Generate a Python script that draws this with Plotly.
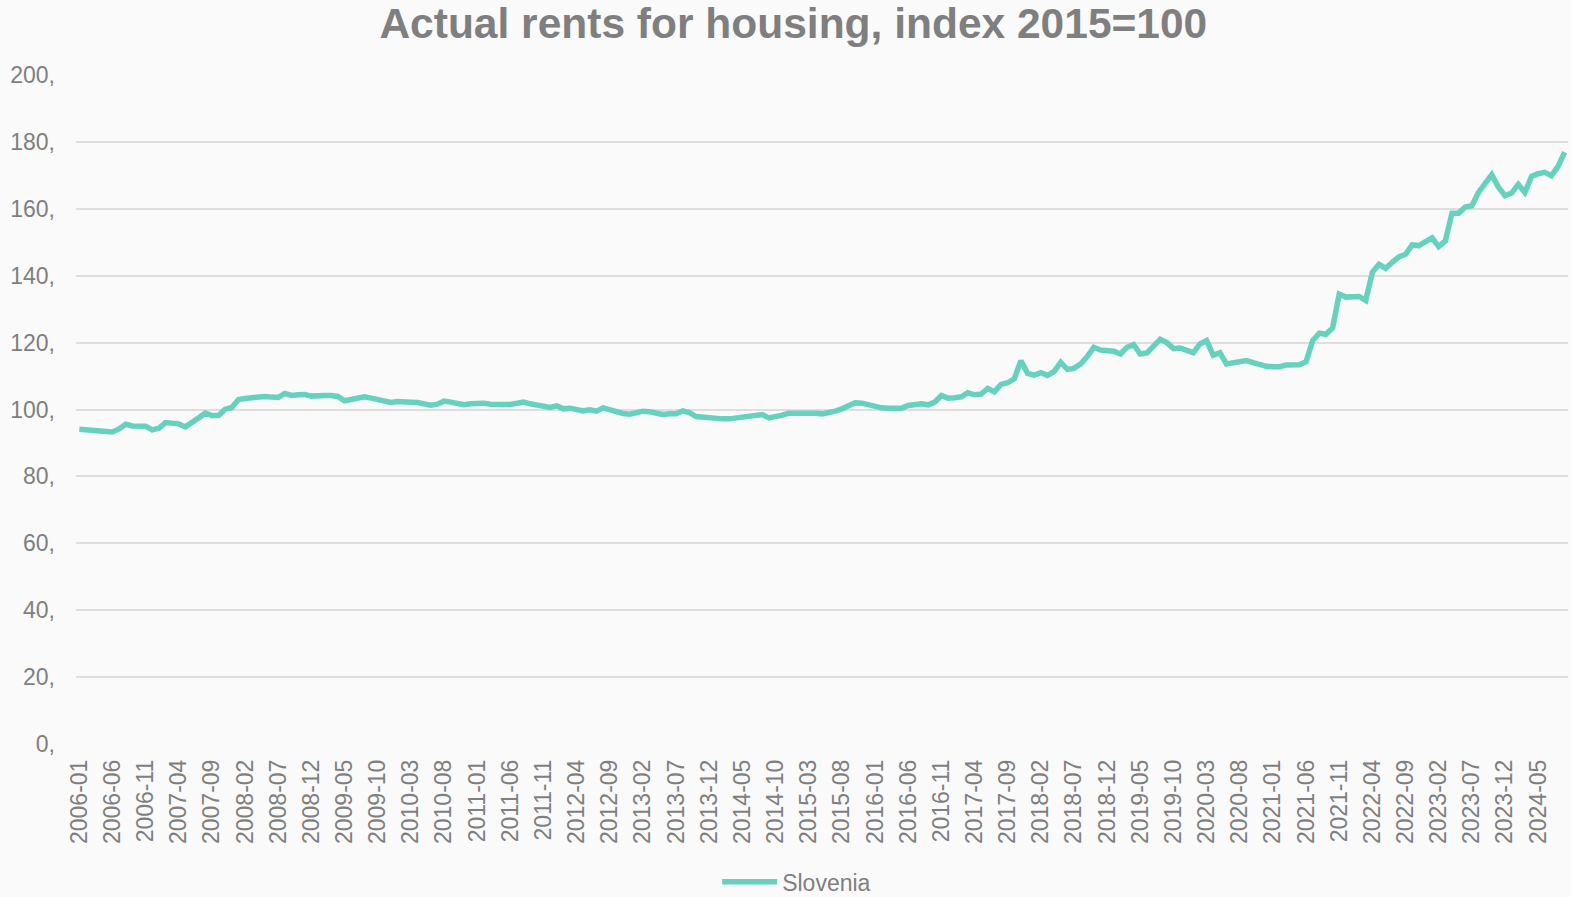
import plotly.graph_objects as go

series_name = "Slovenia"
chart_title = "Actual rents for housing, index 2015=100"

# monthly categories 2006-01 .. 2024-09
months = [f"{y}-{m:02d}" for y in range(2006, 2025) for m in range(1, 13)][:225]

values = [
    94.1, 94.0, 93.9, 93.6, 93.6, 93.3, 94.2, 95.6, 95.1, 94.9,
    95.0, 93.9, 94.4, 96.1, 95.8, 95.7, 94.8, 96.4, 97.5, 98.9,
    98.2, 98.2, 100.1, 100.6, 103.0, 103.3, 103.5, 103.8, 103.9, 103.7,
    103.6, 104.8, 104.2, 104.4, 104.5, 104.0, 104.3, 104.2, 104.2, 103.9,
    102.6, 103.1, 103.5, 103.8, 103.4, 103.0, 102.7, 102.1, 102.4, 102.1,
    102.2, 102.1, 101.9, 101.3, 101.6, 102.5, 102.2, 101.7, 101.4, 101.7,
    102.0, 101.9, 101.6, 101.4, 101.5, 101.5, 101.9, 102.2, 101.7, 101.2,
    100.8, 100.6, 101.1, 100.2, 100.4, 100.0, 99.6, 99.9, 99.5, 100.5,
    99.8, 99.1, 98.8, 98.6, 99.2, 99.5, 99.3, 99.0, 98.5, 98.7,
    98.7, 99.6, 99.1, 97.9, 97.7, 97.5, 97.1, 97.2, 97.2, 97.4,
    97.8, 98.0, 98.3, 98.5, 97.5, 97.7, 98.3, 98.9, 99.0, 99.1,
    99.2, 98.9, 98.7, 99.0, 99.5, 100.2, 101.2, 102.0, 101.9, 101.4,
    100.9, 100.5, 100.4, 100.6, 100.4, 101.2, 101.6, 101.7, 101.4, 102.2,
    104.2, 103.4, 103.5, 103.8, 105.0, 104.4, 104.6, 106.3, 105.3, 107.5,
    108.0, 109.2, 114.6, 110.8, 110.3, 111.0, 110.2, 111.3, 114.1, 112.0,
    112.3, 113.6, 115.8, 118.6, 117.8, 117.5, 117.4, 116.6, 118.6, 119.4,
    116.6, 116.9, 119.0, 121.0, 120.0, 118.2, 118.4, 117.6, 117.0, 119.6,
    120.6, 116.2, 117.0, 113.6, 113.8, 114.2, 114.6, 114.0, 113.4, 112.9,
    112.8, 112.8, 113.3, 113.4, 113.4, 114.3, 120.6, 122.8, 122.5, 124.4,
    134.5, 133.6, 133.9, 133.8, 132.6, 141.0, 143.4, 142.2, 144.0, 145.6,
    146.4, 149.2, 149.0, 150.2, 151.3, 148.7, 150.4, 158.7, 158.7, 160.5,
    160.9, 164.9, 167.9, 170.2, 166.5, 163.9, 164.7, 167.3, 164.9, 169.7,
    170.5, 170.9, 169.9, 172.7, 176.9,
]

y_tick_vals = [0, 20, 40, 60, 80, 100, 120, 140, 160, 180, 200]
y_tick_text = [f"{v}," for v in y_tick_vals]
x_tick_vals = months[::5]

LINE = "#66D2BD"
GREY = "#7f7f7f"
GRID = "#dedede"
BG = "#fafafa"
FONT = "Liberation Sans, Arial, sans-serif"

fig = go.Figure()
fig.add_trace(go.Scatter(
    x=months, y=values, mode="lines", name=series_name,
    line=dict(color=LINE, width=5.5, shape="linear"),
))

fig.update_layout(
    width=1571, height=897,
    paper_bgcolor=BG, plot_bgcolor=BG,
    font=dict(family=FONT, color=GREY, size=23),
    title=dict(text="<b>" + chart_title + "</b>", x=0.505, xanchor="center",
               y=0.974, yanchor="middle",
               font=dict(family=FONT, size=42.5, color=GREY)),
    margin=dict(l=76, r=3, t=75, b=153, autoexpand=False),
    showlegend=True,
    legend=dict(orientation="h", x=0.483, xanchor="center", y=-0.206, yanchor="middle",
                font=dict(size=23, color=GREY), bgcolor="rgba(0,0,0,0)", itemwidth=55),
    xaxis=dict(type="category", range=[-0.5, len(months) - 0.5],
               tickmode="array", tickvals=x_tick_vals, ticktext=x_tick_vals,
               tickangle=-90, showgrid=False, showline=False, zeroline=False,
               ticks="", ticklabelstandoff=10, automargin=False,
               tickfont=dict(size=23, color=GREY)),
    yaxis=dict(range=[0, 200], tickmode="array", tickvals=y_tick_vals, ticktext=y_tick_text,
               showgrid=True, gridcolor=GRID, gridwidth=1.5, zeroline=False,
               showline=False, ticks="", ticklabelstandoff=20, automargin=False,
               tickfont=dict(size=23, color=GREY)),
)

fig.write_html(
    "out.html",
    config={"displayModeBar": False},
    post_script="document.body.style.margin='0';document.body.style.background='#fafafa';",
)
